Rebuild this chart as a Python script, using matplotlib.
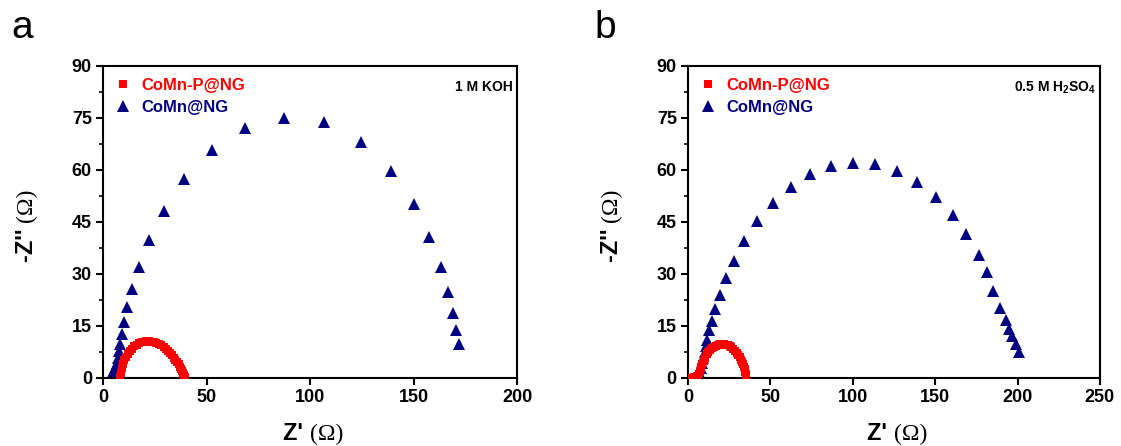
import matplotlib
matplotlib.use("Agg")
import matplotlib.pyplot as plt
from matplotlib.ticker import MultipleLocator

plt.rcParams['font.family'] = 'Liberation Sans'
plt.rcParams['font.weight'] = 'bold'
plt.rcParams['mathtext.fontset'] = 'custom'
plt.rcParams['mathtext.rm'] = 'Liberation Sans:weight=bold'
plt.rcParams['mathtext.bf'] = 'Liberation Sans:weight=bold'
plt.rcParams['mathtext.default'] = 'rm'

# panel a: 1 M KOH
a_red_x = [8.2, 8.5, 9.0, 9.6, 10.3, 11.1, 12.0, 13.0, 14.0, 15.1, 16.2, 17.4, 18.6, 19.8,
           21.0, 22.2, 23.4, 24.6, 25.8, 27.0, 28.2, 29.3, 30.4, 31.4, 32.4, 33.3, 34.2,
           35.0, 35.8, 36.5, 37.2, 37.8, 38.3, 38.8, 39.2, 39.5]
a_red_y = [0.3, 1.5, 2.8, 4.0, 5.1, 6.1, 7.0, 7.8, 8.5, 9.1, 9.6, 10.0, 10.3, 10.5,
           10.6, 10.6, 10.5, 10.4, 10.1, 9.8, 9.4, 8.9, 8.4, 7.8, 7.2, 6.6, 5.9,
           5.2, 4.6, 3.9, 3.2, 2.6, 2.0, 1.4, 0.9, 0.4]
a_blue_x = [3.9, 5.0, 6.0, 6.6, 7.1, 7.6, 8.2, 9.0, 10.1, 11.8, 13.8, 17.4, 22.1, 29.3,
            39.3, 52.5, 68.8, 87.3, 106.9, 124.5, 139.1, 150.2, 157.6, 163.1, 166.8,
            169.2, 170.5, 172.1]
a_blue_y = [0.7, 1.6, 2.9, 4.3, 5.8, 7.7, 9.9, 12.7, 16.1, 20.4, 25.6, 32.0, 39.7, 48.3,
            57.4, 65.9, 72.0, 75.0, 73.7, 68.0, 59.8, 50.1, 40.8, 32.1, 24.7,
            18.7, 13.7, 9.9]

# panel b: 0.5 M H2SO4
b_red_x = [2.5, 3.5, 4.5, 5.5, 6.5, 7.3, 8.0, 8.7, 9.5, 10.4, 11.4, 12.4, 13.5, 14.6,
           15.7, 16.9, 18.1, 19.3, 20.5, 21.7, 22.9, 24.1, 25.3, 26.4, 27.5, 28.6,
           29.6, 30.6, 31.5, 32.3, 33.0, 33.6, 34.1, 34.5, 34.8, 35.0, 35.1]
b_red_y = [0.1, 0.2, 0.4, 0.7, 1.2, 2.0, 3.0, 4.0, 5.0, 5.9, 6.8, 7.5, 8.1, 8.6,
           9.0, 9.3, 9.5, 9.7, 9.7, 9.7, 9.6, 9.4, 9.1, 8.8, 8.4, 7.9,
           7.3, 6.7, 6.0, 5.3, 4.6, 3.9, 3.2, 2.5, 1.8, 1.1, 0.4]
b_blue_x = [4.9, 6.5, 7.7, 8.5, 9.3, 10.1, 10.9, 11.7, 12.9, 14.4, 16.6, 19.6, 23.3, 28.1,
            34.2, 42.1, 51.4, 62.3, 74.2, 86.8, 100.1, 113.7, 126.6, 139.0, 150.5,
            160.6, 168.9, 176.4, 181.6, 185.3, 189.3, 193.0, 194.8, 196.6, 198.8, 201.1]
b_blue_y = [0.7, 1.6, 2.9, 4.3, 5.8, 7.4, 9.1, 11.1, 13.7, 16.3, 19.9, 23.8, 28.7, 33.8,
            39.5, 45.2, 50.6, 55.2, 58.8, 61.2, 62.1, 61.7, 59.7, 56.5, 52.3,
            47.0, 41.6, 35.4, 30.7, 25.1, 20.2, 16.8, 14.1, 12.2, 9.8, 7.4]

labels = ['CoMn-P@NG', 'CoMn@NG']
red = '#ff0000'
navy = '#000080'

fig = plt.figure(figsize=(11.21, 4.46), dpi=100)
ax1 = fig.add_axes([0.0919, 0.1525, 0.3693, 0.6996])
ax2 = fig.add_axes([0.6137, 0.1525, 0.3675, 0.6996])

panels = [
    (ax1, a_red_x, a_red_y, a_blue_x, a_blue_y, 200, "1 M KOH"),
    (ax2, b_red_x, b_red_y, b_blue_x, b_blue_y, 250, "0.5 M H$_{2}$SO$_{4}$"),
]

for ax, rx, ry, bx, by, xmax, note in panels:
    ax.plot(rx, ry, 's', color=red, ms=5.5, mew=0, label=labels[0], zorder=3)
    ax.plot(bx, by, '^', color=navy, ms=8, mew=0, label=labels[1], zorder=2)
    ax.set_xlim(0, xmax)
    ax.set_ylim(0, 90)
    ax.xaxis.set_major_locator(MultipleLocator(50))
    ax.yaxis.set_major_locator(MultipleLocator(15))
    ax.yaxis.set_minor_locator(MultipleLocator(7.5))
    ax.tick_params(which='major', direction='out', length=5, width=1.5,
                   labelsize=13, top=False, right=False, pad=3)
    ax.tick_params(which='minor', direction='out', length=3, width=1.2)
    for s in ax.spines.values():
        s.set_linewidth(1.5)

    # axis titles: bold sans symbol + serif unit
    xt = ax.annotate("Z' ", xy=(0.5, -0.2), xycoords='axes fraction',
                     ha='right', va='baseline', fontsize=17, fontweight='bold',
                     annotation_clip=False)
    ax.annotate("(Ω)", xy=(1, 0), xycoords=xt, ha='left', va='bottom',
                fontsize=17, fontweight='normal', family='Liberation Serif')
    yt = ax.annotate("-Z'' ", xy=(-0.185, 0.5), xycoords='axes fraction',
                     ha='center', va='top', rotation=90, fontsize=17, fontweight='bold',
                     annotation_clip=False)
    ax.annotate("(Ω)", xy=(0.5, 1), xycoords=yt, ha='center', va='bottom',
                rotation=90, fontsize=17, fontweight='normal', family='Liberation Serif')

    leg = ax.legend(loc='upper left', frameon=False, fontsize=12, handletextpad=0.6,
                    borderaxespad=0.3, labelspacing=0.45, handlelength=1.0)
    for t, c in zip(leg.get_texts(), [red, navy]):
        t.set_color(c)
    ax.text(0.99, 0.955, note, transform=ax.transAxes, ha='right', va='top',
            fontsize=10, fontweight='bold')

fig.text(0.010, 0.915, 'a', fontsize=28, fontweight='normal')
fig.text(0.530, 0.915, 'b', fontsize=28, fontweight='normal')

fig.savefig('out.png', dpi=100)
